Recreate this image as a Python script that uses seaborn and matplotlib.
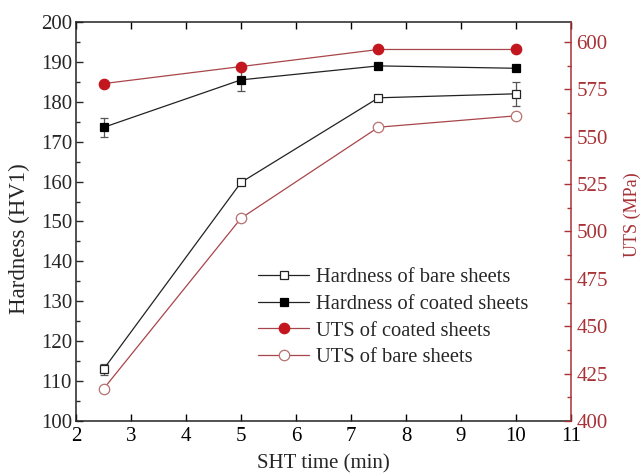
import matplotlib
matplotlib.use("Agg")
import matplotlib.pyplot as plt
import pandas as pd
import seaborn as sns
from matplotlib.ticker import MultipleLocator

# Solution heat treatment time (min)
sht_time = [2.5, 5.0, 7.5, 10.0]

# Hardness (HV1) with standard deviation
hardness_bare = [113.0, 159.8, 181.0, 182.0]
hardness_bare_err = [1.4, 0.6, 0.6, 3.0]
hardness_coated = [173.6, 185.5, 189.0, 188.4]
hardness_coated_err = [2.3, 2.7, 0.5, 0.5]

# Ultimate tensile strength (MPa)
uts_coated = [578.0, 587.0, 596.0, 596.0]
uts_bare = [417.0, 507.0, 555.0, 561.0]

labels = ["Hardness of bare sheets", "Hardness of coated sheets",
          "UTS of coated sheets", "UTS of bare sheets"]

df = pd.DataFrame({
    "time": sht_time,
    "hb": hardness_bare, "hc": hardness_coated,
    "uc": uts_coated, "ub": uts_bare,
})

sns.set_style("ticks")
plt.rcParams["font.family"] = ["Liberation Serif", "DejaVu Serif"]

RED = "#c3161e"
RED_LINE = "#a8454a"
RED_AXIS = "#a83236"
RED_OPEN = "#b97070"

fig = plt.figure(figsize=(6.4, 4.75), dpi=100)
ax = fig.add_axes([0.119, 0.1137, 0.773, 0.8400])
ax2 = ax.twinx()

# hardness error bars
ax.errorbar(sht_time, hardness_bare, yerr=hardness_bare_err, fmt="none",
            ecolor="#555555", elinewidth=0.9, capsize=3.2, capthick=0.9, zorder=2)
ax.errorbar(sht_time, hardness_coated, yerr=hardness_coated_err, fmt="none",
            ecolor="#555555", elinewidth=0.9, capsize=3.2, capthick=0.9, zorder=2)

sns.lineplot(data=df, x="time", y="hb", ax=ax, color="#222222", linewidth=0.9,
             marker="s", markersize=6, markerfacecolor="white",
             markeredgecolor="#222222", markeredgewidth=0.9, label=labels[0], zorder=3)
sns.lineplot(data=df, x="time", y="hc", ax=ax, color="#222222", linewidth=0.9,
             marker="s", markersize=6, markerfacecolor="black",
             markeredgecolor="black", markeredgewidth=0.9, label=labels[1], zorder=3)
sns.lineplot(data=df, x="time", y="uc", ax=ax2, color=RED_LINE, linewidth=0.9,
             marker="o", markersize=7.5, markerfacecolor=RED,
             markeredgecolor=RED, markeredgewidth=0.9, label=labels[2], zorder=3)
sns.lineplot(data=df, x="time", y="ub", ax=ax2, color=RED_LINE, linewidth=0.9,
             marker="o", markersize=7.5, markerfacecolor="white",
             markeredgecolor=RED_OPEN, markeredgewidth=0.9, label=labels[3], zorder=3)

for a in (ax, ax2):
    leg = a.get_legend()
    if leg is not None:
        leg.remove()

# axes limits & ticks
ax.set_xlim(2, 11)
ax.set_ylim(100, 200)
ax2.set_ylim(400, 610.5)
ax.xaxis.set_major_locator(MultipleLocator(1))
ax.yaxis.set_major_locator(MultipleLocator(10))
ax.yaxis.set_minor_locator(MultipleLocator(5))
ax2.yaxis.set_major_locator(MultipleLocator(25))
ax2.yaxis.set_minor_locator(MultipleLocator(12.5))

ax.tick_params(axis="x", which="both", direction="in", top=True, length=5,
               width=1.0, labelsize=15, pad=4, colors="black")
ax.tick_params(axis="y", which="major", direction="in", length=5, width=1.0,
               labelsize=15, pad=3, right=False)
ax.tick_params(axis="y", which="minor", direction="in", length=3, width=1.0, right=False)
ax2.tick_params(axis="y", which="major", direction="in", length=5, width=1.0,
                labelsize=15, pad=4, colors=RED_AXIS)
ax2.tick_params(axis="y", which="minor", direction="in", length=3, width=1.0,
                colors=RED_AXIS)

for s in ("left", "top", "bottom"):
    ax.spines[s].set_color("#222222")
    ax.spines[s].set_linewidth(1.1)
ax.spines["right"].set_visible(False)
ax2.spines["right"].set_color(RED_AXIS)
ax2.spines["right"].set_linewidth(1.1)
for s in ("left", "top", "bottom"):
    ax2.spines[s].set_visible(False)

ax.set_xlabel("SHT time (min)", fontsize=15, labelpad=6)
ax.set_ylabel("Hardness (HV1)", fontsize=16.5)
ax.yaxis.set_label_coords(-0.093, 0.456)
ax2.set_ylabel("UTS (MPa)", fontsize=13, color=RED_AXIS)
ax2.yaxis.set_label_coords(1.107, 0.516)

h1, l1 = ax.get_legend_handles_labels()
h2, l2 = ax2.get_legend_handles_labels()
leg = ax.legend(h1 + h2, l1 + l2, loc="upper left",
                bbox_to_anchor=(0.351, 0.405), frameon=False, fontsize=14.8,
                handlelength=2.5, handletextpad=0.3, labelspacing=0.36,
                borderaxespad=0)
leg.set_zorder(5)

fig.savefig("out.png", dpi=100)
